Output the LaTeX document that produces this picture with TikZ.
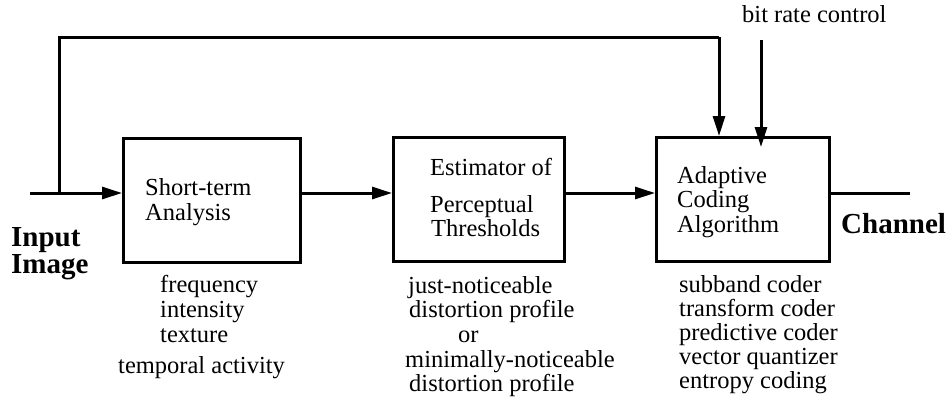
\documentclass[tikz,border=0pt]{standalone}
\usepackage{fontspec}
\setmainfont{Liberation Serif}
\usetikzlibrary{arrows.meta}
\begin{document}
\begin{tikzpicture}[x=1pt,y=-1pt,
  blk/.style={draw,line width=3pt,minimum width=177pt,minimum height=124pt,inner sep=0pt,anchor=north west},
  con/.style={line width=3pt},
  arr/.style={con,-{Triangle[length=20pt,width=12pt]}},
  txt/.style={font=\fontsize{24.5}{24.5}\selectfont,inner sep=0pt,anchor=base west},
  bold/.style={font=\fontsize{29}{29}\selectfont\bfseries,inner sep=0pt,anchor=base west}]
\useasboundingbox (0,0) rectangle (949,400);
\node[blk] (b1) at (122,137) {};
\node[blk,minimum width=171pt] (b2) at (392,136) {};
\node[blk,minimum width=173pt] (b3) at (655,136) {};
% box texts
\node[txt] (t1a) at (145,195) {Short-term};
\node[txt] (t1b) at (145,220) {Analysis};
\node[txt] (t2a) at (430,175) {Estimator of};
\node[txt] (t2b) at (430,212) {Perceptual};
\node[txt] (t2c) at (431,236) {Thresholds};
\node[txt] (t3a) at (677,183) {Adaptive};
\node[txt] (t3b) at (677,207) {Coding};
\node[txt] (t3c) at (677,232) {Algorithm};
% labels
\node[txt] (br) at (742,22) {bit rate control};
\node[bold] (ii1) at (11,246) {Input};
\node[bold] (ii2) at (11,273) {Image};
\node[bold] (ch) at (841,233) {Channel};
\node[txt] (l1a) at (160,292) {frequency};
\node[txt] (l1b) at (160,317) {intensity};
\node[txt] (l1c) at (160,342) {texture};
\node[txt] (l1d) at (118,373) {temporal activity};
\node[txt] (l2a) at (408,293) {just-noticeable};
\node[txt] (l2b) at (409,317) {distortion profile};
\node[txt] (l2c) at (458,342) {or};
\node[txt] (l2d) at (405,367) {minimally-noticeable};
\node[txt] (l2e) at (409,391) {distortion profile};
\node[txt] (l3a) at (679,292) {subband coder};
\node[txt] (l3b) at (679,316) {transform coder};
\node[txt] (l3c) at (679,340) {predictive coder};
\node[txt] (l3d) at (679,364) {vector quantizer};
\node[txt] (l3e) at (679,388) {entropy coding};
% connectors
\coordinate (in) at (30,193);
\coordinate (j) at (59,193);
\coordinate (top) at (59,37);
\coordinate (b3a) at (719,136);
\coordinate (brs) at (761,40);
\coordinate (b3b) at (761,147);
\coordinate (out) at (910,193);
\draw[arr] (in) -- (b1.west |- in);
\draw[con] (j) -- (top) -- (top -| b3a);
\draw[arr] (top -| b3a) -- (b3a);
\draw[arr] (brs) -- (b3b);
\draw[arr] (b1.east |- in) -- (b2.west |- in);
\draw[arr] (b2.east |- in) -- (b3.west |- in);
\draw[con] (b3.east |- out) -- (out);
\end{tikzpicture}
\end{document}
